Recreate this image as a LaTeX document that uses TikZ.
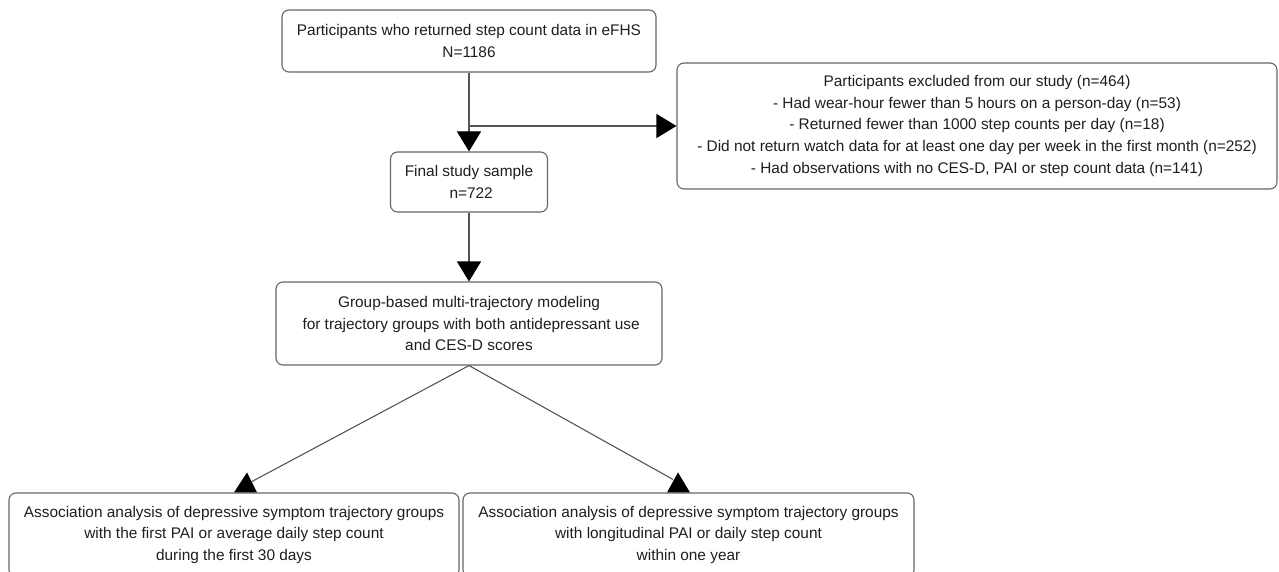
\documentclass[tikz,border=0pt]{standalone}
\usepackage{fontspec}
\setmainfont{Liberation Sans}
\usetikzlibrary{arrows.meta}
\definecolor{edgegray}{HTML}{555555}
\definecolor{boxgray}{HTML}{666666}
\definecolor{txt}{HTML}{1E1E1E}
\begin{document}
\begin{tikzpicture}[x=1pt,y=-1pt,
  box/.style={draw=boxgray,line width=1.1pt,rounded corners=7pt,inner sep=0pt,align=center,text=txt,font=\fontsize{15.4}{21.8}\selectfont},
  conn/.style={draw=edgegray,line width=1.1pt},
  arr/.style={conn,-{Triangle[width=24pt,length=20pt,black]}},
  uptip/.style={fill=black}
]
\useasboundingbox (0,0) rectangle (1279,572);
\node[box,minimum width=374pt,minimum height=62pt] (b1) at (469,41) {Participants who returned step count data in eFHS\\N=1186};
\node[box,minimum width=157pt,minimum height=60pt] (b2) at (469,182) {Final study sample\\\ n=722};
\node[box,minimum width=600pt,minimum height=126pt] (ex) at (977,126) {Participants excluded from our study (n=464)\\- Had wear-hour fewer than 5 hours on a person-day (n=53)\\- Returned fewer than 1000 step counts per day (n=18)\\- Did not return watch data for at least one day per week in the first month (n=252)\\- Had observations with no CES-D, PAI or step count data (n=141)};
\node[box,minimum width=386pt,minimum height=83pt] (b3) at (469,323.5) {Group-based multi-trajectory modeling\\\ for trajectory groups with both antidepressant use\\and CES-D scores};
\node[box,minimum width=450pt,minimum height=84pt] (b4) at (234,535) {Association analysis of depressive symptom trajectory groups\\with the first PAI or average daily step count\\during the first 30 days};
\node[box,minimum width=451pt,minimum height=84pt] (b5) at (688.5,535) {Association analysis of depressive symptom trajectory groups\\with longitudinal PAI or daily step count\\within one year};
\coordinate (j) at (b1.south |- ex.west);
\coordinate (tl) at ([xshift=18pt,yshift=11pt]b4.north);
\coordinate (tr) at ([xshift=-15.5pt,yshift=13pt]b5.north);
\draw[arr] (b1.south) -- (b1.south |- b2.north);
\draw[arr] (j) -- (ex.west);
\draw[arr] (b2.south) -- (b2.south |- b3.north);
\draw[conn] (b3.south) -- (tl);
\draw[conn] (b3.south) -- (tr);
\fill[uptip] ([xshift=0pt]b4.north) -- ([xshift=13pt,yshift=20pt]b4.north) -- ([xshift=23pt]b4.north) -- cycle;
\fill[uptip] ([xshift=-21.5pt]b5.north) -- ([xshift=-10.5pt,yshift=20pt]b5.north) -- ([xshift=1.5pt]b5.north) -- cycle;
\end{tikzpicture}
\end{document}
